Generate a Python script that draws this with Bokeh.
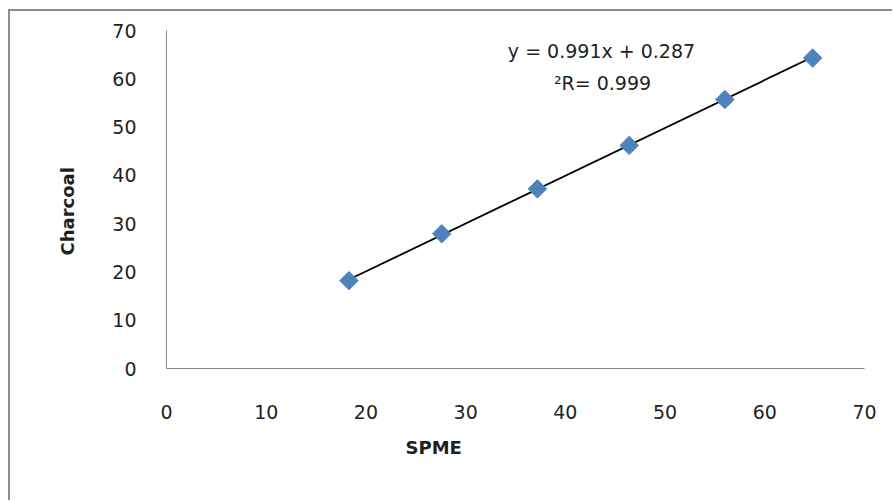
import math
from bokeh.plotting import figure
from bokeh.models import Range1d, Label, Title, FixedTicker, ColumnDataSource
from bokeh.embed import file_html
from bokeh.resources import INLINE

# Data
spme = [18.3, 27.6, 37.2, 46.4, 56.0, 64.8]
charcoal = [18.2, 27.9, 37.2, 46.2, 55.7, 64.3]
slope = 0.991
intercept = 0.287
ticks = [0, 10, 20, 30, 40, 50, 60, 70]
eq_text = "y = 0.991x + 0.287"
r2_text = "\u00b2R= 0.999"
x_title = "SPME"
y_title = "Charcoal"

FONT = "DejaVu Sans"
TXT = "#1f1f1f"

p = figure(width=884, height=491, output_backend="svg", toolbar_location=None,
           x_range=Range1d(0, 70), y_range=Range1d(0, 70),
           min_border_left=156, min_border_right=30, min_border_top=19, min_border_bottom=134)
p.styles = {"margin-left": "8px", "margin-top": "9px",
            "border-left": "2px solid #8c8c8c", "border-top": "2px solid #8c8c8c"}
p.background_fill_color = "white"
p.border_fill_color = "white"
p.outline_line_color = None
p.xgrid.visible = False
p.ygrid.visible = False

for ax in (p.xaxis, p.yaxis):
    ax.ticker = FixedTicker(ticks=ticks)
    ax.major_tick_line_color = None
    ax.minor_tick_line_color = None
    ax.axis_line_color = "#868686"
    ax.axis_line_width = 1
    ax.major_label_text_font = FONT
    ax.major_label_text_font_size = "19px"
    ax.major_label_text_color = TXT
p.xaxis.major_label_standoff = 30
p.yaxis.major_label_standoff = 24

# trendline from equation across the data span
tx = [min(spme), max(spme)]
ty = [slope * v + intercept for v in tx]
p.line(tx, ty, line_color="black", line_width=1.8)

src = ColumnDataSource(dict(x=spme, y=charcoal))
p.scatter("x", "y", source=src, marker="square", size=13, angle=math.pi / 4,
          fill_color="#4F81BD", line_color="#4F81BD")

p.add_layout(Label(x=435, y=318, x_units="screen", y_units="screen", text=eq_text,
                   text_align="center", text_baseline="middle", text_font=FONT,
                   text_font_size="19px", text_color=TXT))
p.add_layout(Label(x=436, y=286, x_units="screen", y_units="screen", text=r2_text,
                   text_align="center", text_baseline="middle", text_font=FONT,
                   text_font_size="19px", text_color=TXT))

p.add_layout(Title(text=x_title, align="left", offset=239, standoff=26,
                   text_font=FONT, text_font_size="18px", text_font_style="bold",
                   text_color=TXT), "below")
p.add_layout(Title(text=y_title, align="left", offset=113, standoff=63,
                   text_font=FONT, text_font_size="18px", text_font_style="bold",
                   text_color=TXT), "left")

open("out.html", "w").write(file_html(p, INLINE))
